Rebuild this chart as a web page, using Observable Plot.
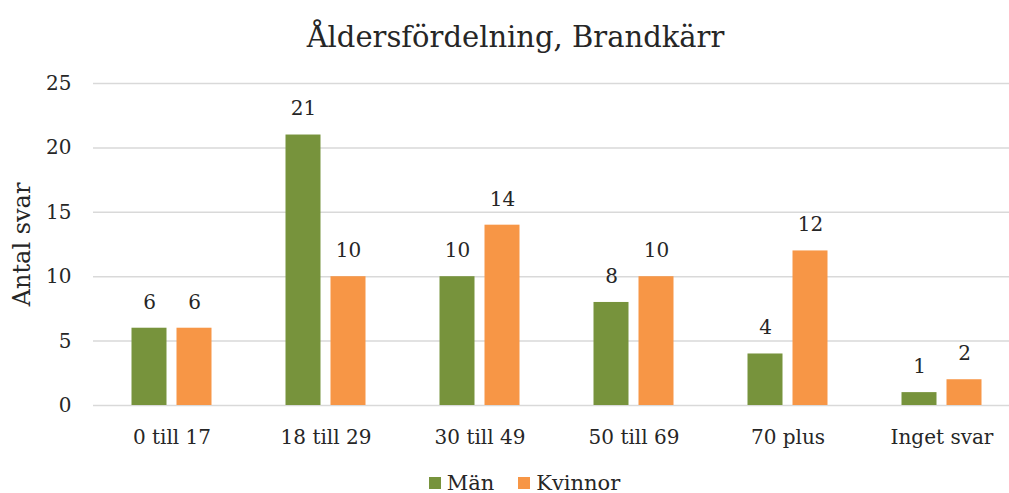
<!DOCTYPE html>
<html>
<head>
<meta charset="utf-8">
<script src="https://cdn.jsdelivr.net/npm/d3@7"></script>
<script src="https://cdn.jsdelivr.net/npm/@observablehq/plot@0.6"></script>
<style>
  html, body { margin: 0; padding: 0; background: #fff; }
  body { width: 1009px; height: 493px; overflow: hidden; font-family: "DejaVu Serif", serif; color: #262626; }
  #title { height: 70px; line-height: 74px; text-align: center; font-size: 29px; color: #262626; padding-left: 22px; }
  #legend { height: 20px; padding-top: 18px; display: flex; justify-content: center; align-items: center; font-size: 21px; color: #262626; gap: 24px; padding-left: 40px; }
  .item { display: flex; align-items: center; gap: 6px; }
  .sw { width: 12px; height: 12px; display: inline-block; }
</style>
</head>
<body>
<div id="title">Åldersfördelning, Brandkärr</div>
<div id="chart"></div>
<div id="legend"></div>
<script>
const categories = ["0 till 17", "18 till 29", "30 till 49", "50 till 69", "70 plus", "Inget svar"];
const men = [6, 21, 10, 8, 4, 1];
const women = [6, 10, 14, 10, 12, 2];
const seriesNames = ["Män", "Kvinnor"];
const seriesColors = ["#77933C", "#F79646"];
const yTicks = [0, 5, 10, 15, 20, 25];

const menData = categories.map((c, i) => ({category: c, value: men[i]}));
const womenData = categories.map((c, i) => ({category: c, value: women[i]}));

const font = "DejaVu Serif, serif";
const chart = Plot.plot({
  width: 1009,
  height: 385,
  marginLeft: 93,
  marginRight: 0,
  marginTop: 13,
  marginBottom: 50,
  style: {fontFamily: font, fontSize: "20px", color: "#262626", background: "#fff"},
  x: {domain: categories, range: [91, 1021], paddingInner: 0.7735, paddingOuter: 0.387, label: null, tickSize: 0, tickPadding: 22},
  y: {domain: [0, 25], ticks: yTicks, label: null, tickSize: 0, tickPadding: 22},
  marks: [
    Plot.ruleY(yTicks, {stroke: "#d9d9d9", strokeWidth: 1.5}),
    Plot.barY(menData, {x: "category", y: "value", fill: seriesColors[0], dx: -22.5}),
    Plot.barY(womenData, {x: "category", y: "value", fill: seriesColors[1], dx: 22.5}),
    Plot.text(menData, {x: "category", y: "value", text: d => String(d.value), dx: -22.5, dy: -26, fill: "#262626", fontSize: 20}),
    Plot.text(womenData, {x: "category", y: "value", text: d => String(d.value), dx: 22.5, dy: -26, fill: "#262626", fontSize: 20}),
    Plot.axisX({tickSize: 0, tickPadding: 24, fontSize: 20, label: null}),
    Plot.axisY({ticks: yTicks, tickSize: 0, tickPadding: 22, fontSize: 20, label: null}),
    Plot.text(["Antal svar"], {frameAnchor: "left", textAnchor: "middle", dx: -71, rotate: -90, fontSize: 24, fill: "#262626"})
  ]
});
document.getElementById("chart").appendChild(chart);

const legend = document.getElementById("legend");
seriesNames.forEach((n, i) => {
  const it = document.createElement("span");
  it.className = "item";
  const sw = document.createElement("span");
  sw.className = "sw";
  sw.style.background = seriesColors[i];
  it.appendChild(sw);
  it.appendChild(document.createTextNode(n));
  legend.appendChild(it);
});
</script>
</body>
</html>
